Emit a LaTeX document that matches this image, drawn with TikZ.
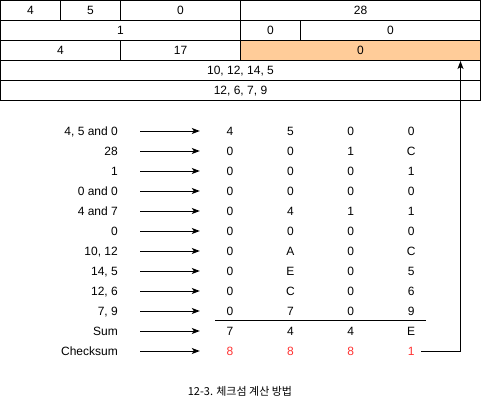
\documentclass[tikz,border=0pt]{standalone}
\usepackage{fontspec}
\setmainfont{Liberation Sans}
\newfontfamily\cjkfont{Noto Sans CJK KR}
\usetikzlibrary{arrows.meta,positioning}
\definecolor{cFill}{RGB}{255,204,153}
\definecolor{cRed}{RGB}{255,51,51}
\tikzset{
  cell/.style={draw, line width=1pt, minimum height=20pt, inner sep=0pt, text height=8.6pt, text depth=0pt, font=\fontsize{12}{14}\selectfont},
  lab/.style={anchor=east, inner sep=0pt, text height=8.6pt, text depth=0pt, font=\fontsize{12}{14}\selectfont},
  dig/.style={minimum width=20pt, inner sep=0pt, text height=8.6pt, text depth=0pt, font=\fontsize{12}{14}\selectfont},
  red/.style={dig, text=cRed},
  arr/.style={-{Stealth[length=8pt, width=6pt, inset=2pt]}, line width=1pt}
}

\begin{document}
\begin{tikzpicture}[x=1pt, y=-1pt, node distance=40pt]
  \useasboundingbox (0,0) rectangle (481,402);
  % packet header
  \node[cell, minimum width=60pt] (h1) at (30.5,10.5) {4};
  \node[cell, minimum width=60pt] (h2) at (90.5,10.5) {5};
  \node[cell, minimum width=120pt] (h3) at (180.5,10.5) {0};
  \node[cell, minimum width=240pt] (h4) at (360.5,10.5) {28};
  \node[cell, minimum width=240pt] (h5) at (120.5,30.5) {1};
  \node[cell, minimum width=60pt] (h6) at (270.5,30.5) {0};
  \node[cell, minimum width=180pt] (h7) at (390.5,30.5) {0};
  \node[cell, minimum width=120pt] (h8) at (60.5,50.5) {4};
  \node[cell, minimum width=120pt] (h9) at (180.5,50.5) {17};
  \node[cell, minimum width=240pt, fill=cFill] (ck) at (360.5,50.5) {0};
  \node[cell, minimum width=480pt] (src) at (240.5,70.5) {10, 12, 14, 5};
  \node[cell, minimum width=480pt] (dst) at (240.5,90.5) {12, 6, 7, 9};

  % words
  \node[lab] (l1) at (118,131) {4, 5 and 0};
  \node[dig] (a1) at (230,131) {4}; \node[dig, right=of a1] (b1) {5}; \node[dig, right=of b1] (c1) {0}; \node[dig, right=of c1] (d1) {0};
  \node[lab] (l2) at (118,151) {28};
  \node[dig] (a2) at (230,151) {0}; \node[dig, right=of a2] (b2) {0}; \node[dig, right=of b2] (c2) {1}; \node[dig, right=of c2] (d2) {C};
  \node[lab] (l3) at (118,171) {1};
  \node[dig] (a3) at (230,171) {0}; \node[dig, right=of a3] (b3) {0}; \node[dig, right=of b3] (c3) {0}; \node[dig, right=of c3] (d3) {1};
  \node[lab] (l4) at (118,191) {0 and 0};
  \node[dig] (a4) at (230,191) {0}; \node[dig, right=of a4] (b4) {0}; \node[dig, right=of b4] (c4) {0}; \node[dig, right=of c4] (d4) {0};
  \node[lab] (l5) at (118,211) {4 and 7};
  \node[dig] (a5) at (230,211) {0}; \node[dig, right=of a5] (b5) {4}; \node[dig, right=of b5] (c5) {1}; \node[dig, right=of c5] (d5) {1};
  \node[lab] (l6) at (118,231) {0};
  \node[dig] (a6) at (230,231) {0}; \node[dig, right=of a6] (b6) {0}; \node[dig, right=of b6] (c6) {0}; \node[dig, right=of c6] (d6) {0};
  \node[lab] (l7) at (118,251) {10, 12};
  \node[dig] (a7) at (230,251) {0}; \node[dig, right=of a7] (b7) {A}; \node[dig, right=of b7] (c7) {0}; \node[dig, right=of c7] (d7) {C};
  \node[lab] (l8) at (118,271) {14, 5};
  \node[dig] (a8) at (230,271) {0}; \node[dig, right=of a8] (b8) {E}; \node[dig, right=of b8] (c8) {0}; \node[dig, right=of c8] (d8) {5};
  \node[lab] (l9) at (118,291) {12, 6};
  \node[dig] (a9) at (230,291) {0}; \node[dig, right=of a9] (b9) {C}; \node[dig, right=of b9] (c9) {0}; \node[dig, right=of c9] (d9) {6};
  \node[lab] (l10) at (118,311) {7, 9};
  \node[dig] (a10) at (230,311) {0}; \node[dig, right=of a10] (b10) {7}; \node[dig, right=of b10] (c10) {0}; \node[dig, right=of c10] (d10) {9};
  \node[lab] (l11) at (118,331) {Sum};
  \node[dig] (a11) at (230,331) {7}; \node[dig, right=of a11] (b11) {4}; \node[dig, right=of b11] (c11) {4}; \node[dig, right=of c11] (d11) {E};
  \node[lab] (l12) at (118,351) {Checksum};
  \node[red] (a12) at (230,351) {8}; \node[red, right=of a12] (b12) {8}; \node[red, right=of b12] (c12) {8}; \node[red, right=of c12] (d12) {1};

  \foreach \i in {1,...,12}
    \draw[arr] ([xshift=22pt]l\i.east) -- ([xshift=-20pt]a\i.west);
  \draw[line width=1pt] (215,320.5) -- (426,320.5);
  \draw[arr] (d12.east) -| ([xshift=100pt]ck.south);

  \node[font=\cjkfont\fontsize{11}{13}\selectfont] (cap) at (240,391.5) {12-3. 체크섬 계산 방법};
\end{tikzpicture}
\end{document}
